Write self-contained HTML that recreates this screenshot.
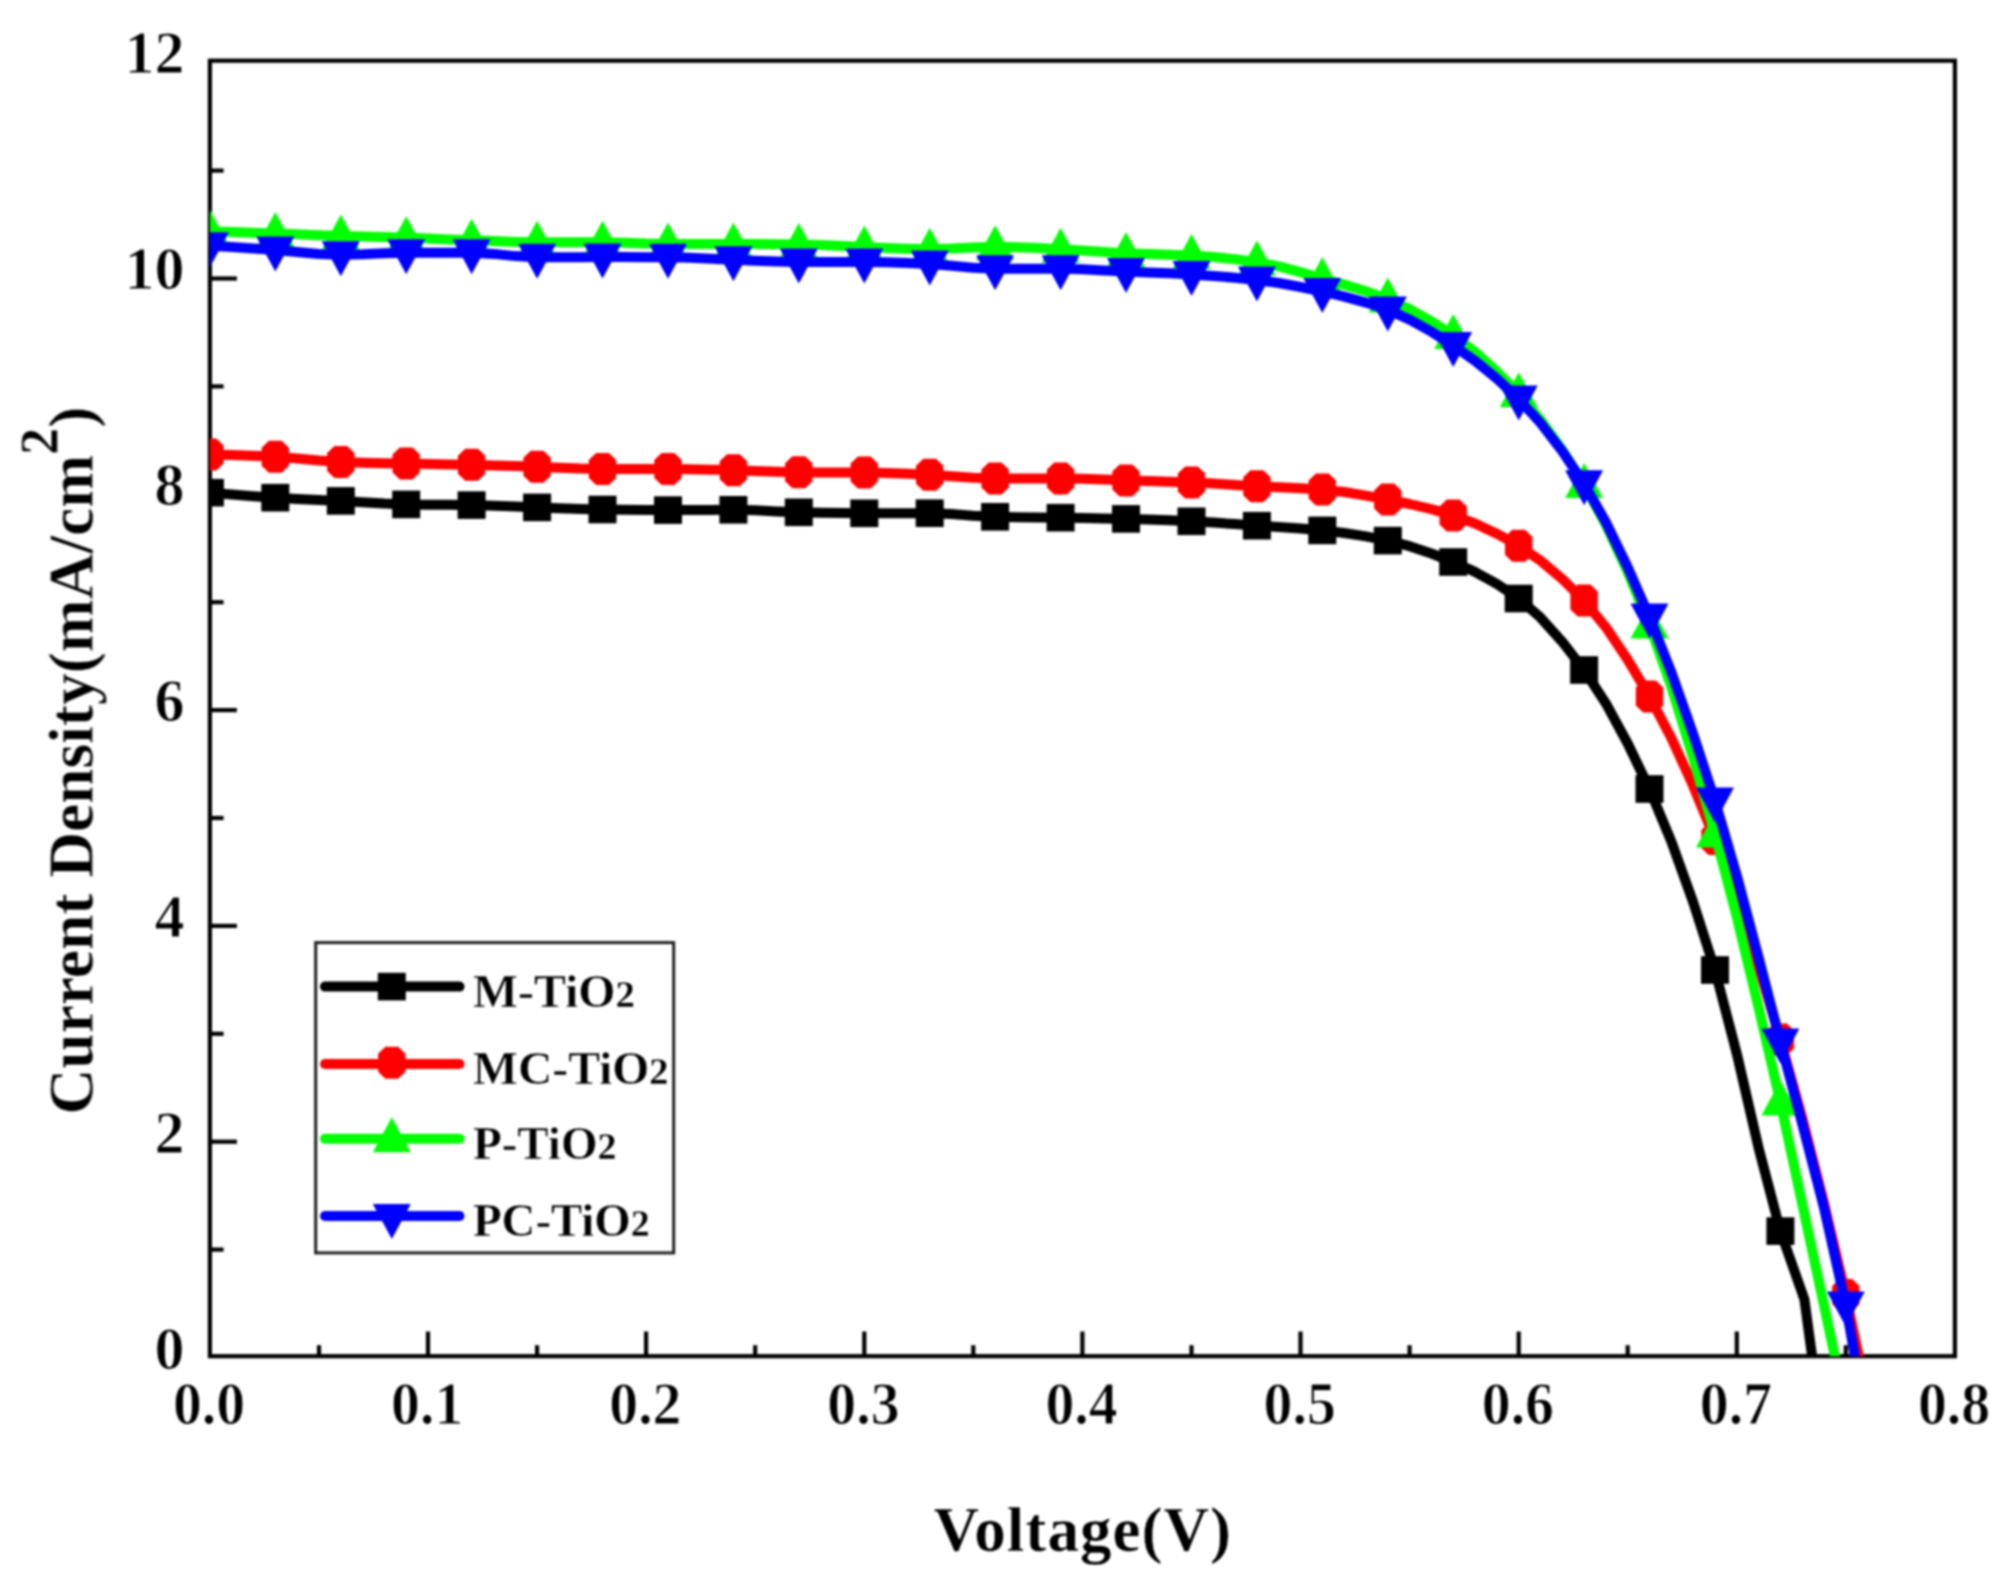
<!DOCTYPE html>
<html lang="en">
<head>
<meta charset="utf-8">
<title>J-V curves</title>
<style>
html,body{margin:0;padding:0;background:#ffffff;}
body{width:2009px;height:1592px;overflow:hidden;}
svg{display:block;}
text{font-family:"Liberation Serif","DejaVu Serif",serif;font-weight:bold;fill:#000;stroke:#fff;stroke-width:1px;}
.tk{font-size:61.5px;stroke-width:0.4px;}
.ttl{font-size:63px;stroke-width:0.4px;}
.lg{font-size:47px;stroke-width:0.5px;}
.lg2{font-size:38px;stroke-width:0.3px;}
</style>
</head>
<body>
<svg width="2009" height="1592" viewBox="0 0 2009 1592">
<rect x="0" y="0" width="2009" height="1592" fill="#ffffff"/>
<defs><filter id="soft" x="0" y="0" width="2009" height="1592" filterUnits="userSpaceOnUse" color-interpolation-filters="sRGB"><feGaussianBlur stdDeviation="0.8"/></filter><clipPath id="plot"><rect x="209.9" y="60.7" width="1745.0" height="1295.5"/></clipPath></defs>

<g filter="url(#soft)">
<g fill="none" stroke="#000" stroke-width="4.2">
<rect x="209.9" y="60.7" width="1745.0" height="1295.5"/>
<line x1="319.0" y1="1356.2" x2="319.0" y2="1345.2"/>
<line x1="428.0" y1="1356.2" x2="428.0" y2="1331.5"/>
<line x1="537.1" y1="1356.2" x2="537.1" y2="1345.2"/>
<line x1="646.1" y1="1356.2" x2="646.1" y2="1331.5"/>
<line x1="755.2" y1="1356.2" x2="755.2" y2="1345.2"/>
<line x1="864.3" y1="1356.2" x2="864.3" y2="1331.5"/>
<line x1="973.3" y1="1356.2" x2="973.3" y2="1345.2"/>
<line x1="1082.4" y1="1356.2" x2="1082.4" y2="1331.5"/>
<line x1="1191.5" y1="1356.2" x2="1191.5" y2="1345.2"/>
<line x1="1300.5" y1="1356.2" x2="1300.5" y2="1331.5"/>
<line x1="1409.6" y1="1356.2" x2="1409.6" y2="1345.2"/>
<line x1="1518.7" y1="1356.2" x2="1518.7" y2="1331.5"/>
<line x1="1627.7" y1="1356.2" x2="1627.7" y2="1345.2"/>
<line x1="1736.8" y1="1356.2" x2="1736.8" y2="1331.5"/>
<line x1="1845.8" y1="1356.2" x2="1845.8" y2="1345.2"/>
<line x1="209.9" y1="1249.6" x2="223.6" y2="1249.6"/>
<line x1="209.9" y1="1141.7" x2="236.9" y2="1141.7"/>
<line x1="209.9" y1="1033.8" x2="223.6" y2="1033.8"/>
<line x1="209.9" y1="925.9" x2="236.9" y2="925.9"/>
<line x1="209.9" y1="818.0" x2="223.6" y2="818.0"/>
<line x1="209.9" y1="710.1" x2="236.9" y2="710.1"/>
<line x1="209.9" y1="602.2" x2="223.6" y2="602.2"/>
<line x1="209.9" y1="494.3" x2="236.9" y2="494.3"/>
<line x1="209.9" y1="386.4" x2="223.6" y2="386.4"/>
<line x1="209.9" y1="278.5" x2="236.9" y2="278.5"/>
<line x1="209.9" y1="170.6" x2="223.6" y2="170.6"/>
</g>
<g class="tk" text-anchor="middle">
<text transform="translate(209.1,1423.5) scale(0.94,1)">0.0</text>
<text transform="translate(427.2,1423.5) scale(0.94,1)">0.1</text>
<text transform="translate(645.4,1423.5) scale(0.94,1)">0.2</text>
<text transform="translate(863.5,1423.5) scale(0.94,1)">0.3</text>
<text transform="translate(1081.6,1423.5) scale(0.94,1)">0.4</text>
<text transform="translate(1299.7,1423.5) scale(0.94,1)">0.5</text>
<text transform="translate(1517.9,1423.5) scale(0.94,1)">0.6</text>
<text transform="translate(1736.0,1423.5) scale(0.94,1)">0.7</text>
<text transform="translate(1954.1,1423.5) scale(0.94,1)">0.8</text>
</g>
<g class="tk" text-anchor="end">
<text transform="translate(184.5,1368.8) scale(0.975,1)">0</text>
<text transform="translate(184.5,1152.9) scale(0.975,1)">2</text>
<text transform="translate(184.5,937.0) scale(0.975,1)">4</text>
<text transform="translate(184.5,721.1) scale(0.975,1)">6</text>
<text transform="translate(184.5,505.1) scale(0.975,1)">8</text>
<text transform="translate(184.5,289.2) scale(0.975,1)">10</text>
<text transform="translate(184.5,73.3) scale(0.975,1)">12</text>
</g>
<text class="ttl" x="1082.8" y="1551" letter-spacing="1.05" text-anchor="middle">Voltage(V)</text>
<text class="ttl" transform="translate(92.5,760.5) rotate(-90) scale(1.007,1)" text-anchor="middle">Current Density(mA/cm<tspan font-size="54" dy="-35">2</tspan><tspan dy="35">)</tspan></text>
<g clip-path="url(#plot)">
<polyline points="209.9,492.7 231.7,494.6 253.5,496.3 275.3,497.7 297.1,498.9 319.0,499.9 340.8,500.9 362.6,502.2 384.4,503.6 406.2,504.4 428.0,504.7 449.8,504.8 471.6,505.1 493.5,505.7 515.3,506.6 537.1,507.4 558.9,508.2 580.7,509.0 602.5,509.5 624.3,509.8 646.1,510.0 668.0,510.1 689.8,510.0 711.6,509.9 733.4,509.8 755.2,510.3 777.0,511.4 798.8,512.3 820.6,512.8 842.5,513.1 864.3,513.3 886.1,513.3 907.9,513.2 929.7,513.2 951.5,514.0 973.3,515.7 995.1,516.8 1017.0,517.2 1038.8,517.4 1060.6,517.7 1082.4,518.0 1104.2,518.4 1126.0,518.9 1147.8,519.5 1169.6,520.3 1191.5,521.3 1213.3,522.6 1235.1,524.1 1256.9,525.7 1278.7,527.1 1300.5,528.6 1322.3,530.4 1344.2,533.0 1366.0,536.4 1387.8,540.6 1409.6,546.2 1431.4,553.5 1453.2,562.0 1475.0,571.9 1496.8,583.9 1518.7,598.5 1540.5,617.6 1562.3,641.8 1584.1,670.0 1605.9,703.4 1627.7,743.5 1649.5,789.0 1671.3,841.4 1693.1,902.0 1715.0,970.0 1736.8,1053.7 1758.6,1147.9 1780.4,1231.1 1804.4,1299.3 1812.6,1360.0" fill="none" stroke="#000000" stroke-width="10" stroke-linejoin="round"/>
<rect x="195.9" y="478.9" width="28" height="27.6" fill="#000000"/>
<rect x="261.3" y="483.9" width="28" height="27.6" fill="#000000"/>
<rect x="326.8" y="487.1" width="28" height="27.6" fill="#000000"/>
<rect x="392.2" y="490.6" width="28" height="27.6" fill="#000000"/>
<rect x="457.6" y="491.3" width="28" height="27.6" fill="#000000"/>
<rect x="523.1" y="493.6" width="28" height="27.6" fill="#000000"/>
<rect x="588.5" y="495.7" width="28" height="27.6" fill="#000000"/>
<rect x="654.0" y="496.3" width="28" height="27.6" fill="#000000"/>
<rect x="719.4" y="496.0" width="28" height="27.6" fill="#000000"/>
<rect x="784.8" y="498.5" width="28" height="27.6" fill="#000000"/>
<rect x="850.3" y="499.5" width="28" height="27.6" fill="#000000"/>
<rect x="915.7" y="499.4" width="28" height="27.6" fill="#000000"/>
<rect x="981.1" y="503.0" width="28" height="27.6" fill="#000000"/>
<rect x="1046.6" y="503.9" width="28" height="27.6" fill="#000000"/>
<rect x="1112.0" y="505.1" width="28" height="27.6" fill="#000000"/>
<rect x="1177.5" y="507.5" width="28" height="27.6" fill="#000000"/>
<rect x="1242.9" y="511.9" width="28" height="27.6" fill="#000000"/>
<rect x="1308.3" y="516.6" width="28" height="27.6" fill="#000000"/>
<rect x="1373.8" y="526.8" width="28" height="27.6" fill="#000000"/>
<rect x="1439.2" y="548.2" width="28" height="27.6" fill="#000000"/>
<rect x="1504.7" y="584.7" width="28" height="27.6" fill="#000000"/>
<rect x="1570.1" y="656.2" width="28" height="27.6" fill="#000000"/>
<rect x="1635.5" y="775.2" width="28" height="27.6" fill="#000000"/>
<rect x="1701.0" y="956.2" width="28" height="27.6" fill="#000000"/>
<rect x="1766.4" y="1217.3" width="28" height="27.6" fill="#000000"/>
<polyline points="209.9,454.6 231.7,455.0 253.5,455.8 275.3,456.8 297.1,458.4 319.0,460.5 340.8,462.0 362.6,462.7 384.4,463.2 406.2,463.6 428.0,464.0 449.8,464.4 471.6,464.8 493.5,465.4 515.3,466.1 537.1,466.8 558.9,467.7 580.7,468.6 602.5,469.0 624.3,469.0 646.1,469.0 668.0,469.0 689.8,469.2 711.6,469.7 733.4,470.2 755.2,470.9 777.0,471.8 798.8,472.3 820.6,472.4 842.5,472.4 864.3,472.5 886.1,472.9 907.9,473.8 929.7,474.8 951.5,476.2 973.3,477.8 995.1,478.5 1017.0,478.5 1038.8,478.5 1060.6,478.5 1082.4,478.8 1104.2,479.6 1126.0,480.4 1147.8,481.0 1169.6,481.7 1191.5,482.5 1213.3,483.6 1235.1,484.9 1256.9,486.2 1278.7,487.2 1300.5,488.2 1322.3,489.6 1344.2,492.0 1366.0,495.6 1387.8,499.6 1409.6,504.0 1431.4,509.1 1453.2,515.4 1475.0,523.5 1496.8,533.7 1518.7,545.8 1540.5,560.6 1562.3,579.0 1584.1,600.6 1605.9,627.3 1627.7,659.7 1649.5,696.4 1671.3,738.0 1693.1,785.8 1715.0,839.0 1736.8,899.0 1758.6,966.6 1780.4,1039.5 1802.2,1117.9 1824.0,1203.1 1845.8,1295.0 1859.6,1360.0" fill="none" stroke="#ff0000" stroke-width="10" stroke-linejoin="round"/>
<polygon points="203.5,438.6 216.3,438.6 223.6,445.6 223.6,463.6 216.3,470.6 203.5,470.6 196.2,463.6 196.2,445.6" fill="#ff0000"/>
<polygon points="268.9,440.8 281.7,440.8 289.0,447.8 289.0,465.8 281.7,472.8 268.9,472.8 261.6,465.8 261.6,447.8" fill="#ff0000"/>
<polygon points="334.4,446.0 347.2,446.0 354.5,453.0 354.5,471.0 347.2,478.0 334.4,478.0 327.1,471.0 327.1,453.0" fill="#ff0000"/>
<polygon points="399.8,447.6 412.6,447.6 419.9,454.6 419.9,472.6 412.6,479.6 399.8,479.6 392.5,472.6 392.5,454.6" fill="#ff0000"/>
<polygon points="465.2,448.8 478.0,448.8 485.3,455.8 485.3,473.8 478.0,480.8 465.2,480.8 457.9,473.8 457.9,455.8" fill="#ff0000"/>
<polygon points="530.7,450.8 543.5,450.8 550.8,457.8 550.8,475.8 543.5,482.8 530.7,482.8 523.4,475.8 523.4,457.8" fill="#ff0000"/>
<polygon points="596.1,453.0 608.9,453.0 616.2,460.0 616.2,478.0 608.9,485.0 596.1,485.0 588.8,478.0 588.8,460.0" fill="#ff0000"/>
<polygon points="661.6,453.0 674.4,453.0 681.7,460.0 681.7,478.0 674.4,485.0 661.6,485.0 654.3,478.0 654.3,460.0" fill="#ff0000"/>
<polygon points="727.0,454.2 739.8,454.2 747.1,461.2 747.1,479.2 739.8,486.2 727.0,486.2 719.7,479.2 719.7,461.2" fill="#ff0000"/>
<polygon points="792.4,456.3 805.2,456.3 812.5,463.3 812.5,481.3 805.2,488.3 792.4,488.3 785.1,481.3 785.1,463.3" fill="#ff0000"/>
<polygon points="857.9,456.5 870.7,456.5 878.0,463.5 878.0,481.5 870.7,488.5 857.9,488.5 850.6,481.5 850.6,463.5" fill="#ff0000"/>
<polygon points="923.3,458.8 936.1,458.8 943.4,465.8 943.4,483.8 936.1,490.8 923.3,490.8 916.0,483.8 916.0,465.8" fill="#ff0000"/>
<polygon points="988.8,462.5 1001.5,462.5 1008.9,469.5 1008.9,487.5 1001.5,494.5 988.8,494.5 981.4,487.5 981.4,469.5" fill="#ff0000"/>
<polygon points="1054.2,462.5 1067.0,462.5 1074.3,469.5 1074.3,487.5 1067.0,494.5 1054.2,494.5 1046.9,487.5 1046.9,469.5" fill="#ff0000"/>
<polygon points="1119.6,464.4 1132.4,464.4 1139.7,471.4 1139.7,489.4 1132.4,496.4 1119.6,496.4 1112.3,489.4 1112.3,471.4" fill="#ff0000"/>
<polygon points="1185.1,466.5 1197.9,466.5 1205.2,473.5 1205.2,491.5 1197.9,498.5 1185.1,498.5 1177.8,491.5 1177.8,473.5" fill="#ff0000"/>
<polygon points="1250.5,470.2 1263.3,470.2 1270.6,477.2 1270.6,495.2 1263.3,502.2 1250.5,502.2 1243.2,495.2 1243.2,477.2" fill="#ff0000"/>
<polygon points="1315.9,473.6 1328.7,473.6 1336.0,480.6 1336.0,498.6 1328.7,505.6 1315.9,505.6 1308.6,498.6 1308.6,480.6" fill="#ff0000"/>
<polygon points="1381.4,483.6 1394.2,483.6 1401.5,490.6 1401.5,508.6 1394.2,515.6 1381.4,515.6 1374.1,508.6 1374.1,490.6" fill="#ff0000"/>
<polygon points="1446.8,499.4 1459.6,499.4 1466.9,506.4 1466.9,524.4 1459.6,531.4 1446.8,531.4 1439.5,524.4 1439.5,506.4" fill="#ff0000"/>
<polygon points="1512.2,529.8 1525.1,529.8 1532.4,536.8 1532.4,554.8 1525.1,561.8 1512.2,561.8 1505.0,554.8 1505.0,536.8" fill="#ff0000"/>
<polygon points="1577.7,584.6 1590.5,584.6 1597.8,591.6 1597.8,609.6 1590.5,616.6 1577.7,616.6 1570.4,609.6 1570.4,591.6" fill="#ff0000"/>
<polygon points="1643.1,680.4 1655.9,680.4 1663.2,687.4 1663.2,705.4 1655.9,712.4 1643.1,712.4 1635.8,705.4 1635.8,687.4" fill="#ff0000"/>
<polygon points="1708.6,823.0 1721.4,823.0 1728.7,830.0 1728.7,848.0 1721.4,855.0 1708.6,855.0 1701.3,848.0 1701.3,830.0" fill="#ff0000"/>
<polygon points="1774.0,1023.5 1786.8,1023.5 1794.1,1030.5 1794.1,1048.5 1786.8,1055.5 1774.0,1055.5 1766.7,1048.5 1766.7,1030.5" fill="#ff0000"/>
<polygon points="1839.4,1279.0 1852.2,1279.0 1859.5,1286.0 1859.5,1304.0 1852.2,1311.0 1839.4,1311.0 1832.1,1304.0 1832.1,1286.0" fill="#ff0000"/>
<polyline points="209.9,231.4 231.7,232.1 253.5,232.8 275.3,233.5 297.1,234.3 319.0,235.2 340.8,236.0 362.6,236.6 384.4,237.1 406.2,237.7 428.0,238.5 449.8,239.4 471.6,240.2 493.5,241.1 515.3,241.9 537.1,242.3 558.9,242.3 580.7,242.3 602.5,242.3 624.3,242.7 646.1,243.6 668.0,244.0 689.8,244.0 711.6,244.0 733.4,244.0 755.2,244.1 777.0,244.2 798.8,244.4 820.6,245.0 842.5,246.1 864.3,247.1 886.1,248.0 907.9,248.8 929.7,249.2 951.5,248.6 973.3,247.4 995.1,246.8 1017.0,247.2 1038.8,248.1 1060.6,249.2 1082.4,250.5 1104.2,252.1 1126.0,253.4 1147.8,254.1 1169.6,254.7 1191.5,255.5 1213.3,257.0 1235.1,259.2 1256.9,262.1 1278.7,266.4 1300.5,272.2 1322.3,278.5 1344.2,284.6 1366.0,291.2 1387.8,299.1 1409.6,309.1 1431.4,321.3 1453.2,335.4 1475.0,351.9 1496.8,371.4 1518.7,393.8 1540.5,419.7 1562.3,449.9 1584.1,484.5 1605.9,524.8 1627.7,571.8 1649.5,625.0 1671.3,686.7 1693.1,757.5 1715.0,834.0 1736.8,917.1 1758.6,1007.6 1780.4,1102.0 1835.7,1360.0" fill="none" stroke="#00ff00" stroke-width="10" stroke-linejoin="round"/>
<polygon points="209.9,209.9 228.9,244.9 190.9,244.9" fill="#00ff00"/>
<polygon points="275.3,212.0 294.3,247.0 256.3,247.0" fill="#00ff00"/>
<polygon points="340.8,214.5 359.8,249.5 321.8,249.5" fill="#00ff00"/>
<polygon points="406.2,216.2 425.2,251.2 387.2,251.2" fill="#00ff00"/>
<polygon points="471.6,218.7 490.6,253.7 452.6,253.7" fill="#00ff00"/>
<polygon points="537.1,220.8 556.1,255.8 518.1,255.8" fill="#00ff00"/>
<polygon points="602.5,220.8 621.5,255.8 583.5,255.8" fill="#00ff00"/>
<polygon points="668.0,222.5 687.0,257.5 649.0,257.5" fill="#00ff00"/>
<polygon points="733.4,222.5 752.4,257.5 714.4,257.5" fill="#00ff00"/>
<polygon points="798.8,222.9 817.8,257.9 779.8,257.9" fill="#00ff00"/>
<polygon points="864.3,225.6 883.3,260.6 845.3,260.6" fill="#00ff00"/>
<polygon points="929.7,227.7 948.7,262.7 910.7,262.7" fill="#00ff00"/>
<polygon points="995.1,225.3 1014.1,260.3 976.1,260.3" fill="#00ff00"/>
<polygon points="1060.6,227.7 1079.6,262.7 1041.6,262.7" fill="#00ff00"/>
<polygon points="1126.0,231.9 1145.0,266.9 1107.0,266.9" fill="#00ff00"/>
<polygon points="1191.5,234.0 1210.5,269.0 1172.5,269.0" fill="#00ff00"/>
<polygon points="1256.9,240.6 1275.9,275.6 1237.9,275.6" fill="#00ff00"/>
<polygon points="1322.3,257.0 1341.3,292.0 1303.3,292.0" fill="#00ff00"/>
<polygon points="1387.8,277.6 1406.8,312.6 1368.8,312.6" fill="#00ff00"/>
<polygon points="1453.2,313.9 1472.2,348.9 1434.2,348.9" fill="#00ff00"/>
<polygon points="1518.7,372.3 1537.7,407.3 1499.7,407.3" fill="#00ff00"/>
<polygon points="1584.1,463.0 1603.1,498.0 1565.1,498.0" fill="#00ff00"/>
<polygon points="1649.5,603.5 1668.5,638.5 1630.5,638.5" fill="#00ff00"/>
<polygon points="1715.0,812.5 1734.0,847.5 1696.0,847.5" fill="#00ff00"/>
<polygon points="1780.4,1080.5 1799.4,1115.5 1761.4,1115.5" fill="#00ff00"/>
<polyline points="209.9,245.8 231.7,247.1 253.5,248.5 275.3,250.0 297.1,251.9 319.0,253.9 340.8,254.8 362.6,254.3 384.4,253.2 406.2,252.7 428.0,252.7 449.8,252.7 471.6,252.7 493.5,253.9 515.3,256.1 537.1,257.3 558.9,257.2 580.7,257.2 602.5,257.1 624.3,257.1 646.1,257.2 668.0,257.3 689.8,257.8 711.6,258.8 733.4,259.8 755.2,260.7 777.0,261.5 798.8,261.9 820.6,261.9 842.5,261.9 864.3,261.9 886.1,262.2 907.9,263.0 929.7,264.0 951.5,265.7 973.3,267.8 995.1,268.8 1017.0,268.8 1038.8,268.8 1060.6,268.8 1082.4,269.3 1104.2,270.4 1126.0,271.5 1147.8,272.4 1169.6,273.3 1191.5,274.4 1213.3,275.9 1235.1,277.7 1256.9,280.0 1278.7,283.0 1300.5,287.0 1322.3,291.5 1344.2,296.6 1366.0,302.6 1387.8,309.9 1409.6,319.6 1431.4,331.7 1453.2,345.5 1475.0,360.8 1496.8,378.6 1518.7,399.0 1540.5,423.0 1562.3,451.3 1584.1,483.8 1605.9,522.2 1627.7,567.3 1649.5,617.0 1671.3,672.1 1693.1,733.8 1715.0,800.9 1736.8,875.6 1758.6,957.6 1780.4,1041.9 1802.2,1123.6 1824.0,1207.8 1845.8,1305.1 1855.5,1360.0" fill="none" stroke="#0000ff" stroke-width="10" stroke-linejoin="round"/>
<polygon points="209.9,267.3 228.9,232.3 190.9,232.3" fill="#0000ff"/>
<polygon points="275.3,271.5 294.3,236.5 256.3,236.5" fill="#0000ff"/>
<polygon points="340.8,276.3 359.8,241.3 321.8,241.3" fill="#0000ff"/>
<polygon points="406.2,274.2 425.2,239.2 387.2,239.2" fill="#0000ff"/>
<polygon points="471.6,274.2 490.6,239.2 452.6,239.2" fill="#0000ff"/>
<polygon points="537.1,278.8 556.1,243.8 518.1,243.8" fill="#0000ff"/>
<polygon points="602.5,278.6 621.5,243.6 583.5,243.6" fill="#0000ff"/>
<polygon points="668.0,278.8 687.0,243.8 649.0,243.8" fill="#0000ff"/>
<polygon points="733.4,281.3 752.4,246.3 714.4,246.3" fill="#0000ff"/>
<polygon points="798.8,283.4 817.8,248.4 779.8,248.4" fill="#0000ff"/>
<polygon points="864.3,283.4 883.3,248.4 845.3,248.4" fill="#0000ff"/>
<polygon points="929.7,285.5 948.7,250.5 910.7,250.5" fill="#0000ff"/>
<polygon points="995.1,290.3 1014.1,255.3 976.1,255.3" fill="#0000ff"/>
<polygon points="1060.6,290.3 1079.6,255.3 1041.6,255.3" fill="#0000ff"/>
<polygon points="1126.0,293.0 1145.0,258.0 1107.0,258.0" fill="#0000ff"/>
<polygon points="1191.5,295.9 1210.5,260.9 1172.5,260.9" fill="#0000ff"/>
<polygon points="1256.9,301.5 1275.9,266.5 1237.9,266.5" fill="#0000ff"/>
<polygon points="1322.3,313.0 1341.3,278.0 1303.3,278.0" fill="#0000ff"/>
<polygon points="1387.8,331.4 1406.8,296.4 1368.8,296.4" fill="#0000ff"/>
<polygon points="1453.2,367.0 1472.2,332.0 1434.2,332.0" fill="#0000ff"/>
<polygon points="1518.7,420.5 1537.7,385.5 1499.7,385.5" fill="#0000ff"/>
<polygon points="1584.1,505.3 1603.1,470.3 1565.1,470.3" fill="#0000ff"/>
<polygon points="1649.5,638.5 1668.5,603.5 1630.5,603.5" fill="#0000ff"/>
<polygon points="1715.0,822.4 1734.0,787.4 1696.0,787.4" fill="#0000ff"/>
<polygon points="1780.4,1063.4 1799.4,1028.4 1761.4,1028.4" fill="#0000ff"/>
<polygon points="1845.8,1326.6 1864.8,1291.6 1826.8,1291.6" fill="#0000ff"/>
</g>
<rect x="315.7" y="942.6" width="358" height="310.3" fill="#ffffff" stroke="#1e1e1e" stroke-width="3"/>
<line x1="325" y1="986.6" x2="459.5" y2="986.6" stroke="#000000" stroke-width="10" stroke-linecap="round"/>
<rect x="377.8" y="972.8" width="28" height="27.6" fill="#000000"/>
<text class="lg" transform="translate(473,1006.9) scale(1.017,1)">M-TiO<tspan class="lg2">2</tspan></text>
<line x1="325" y1="1064.0" x2="459.5" y2="1064.0" stroke="#ff0000" stroke-width="10" stroke-linecap="round"/>
<polygon points="385.4,1046.8 398.2,1046.8 405.5,1053.8 405.5,1071.8 398.2,1078.8 385.4,1078.8 378.1,1071.8 378.1,1053.8" fill="#ff0000"/>
<text class="lg" transform="translate(473,1084.2) scale(1.013,1)">MC-TiO<tspan class="lg2">2</tspan></text>
<line x1="325" y1="1138.8" x2="459.5" y2="1138.8" stroke="#00ff00" stroke-width="10" stroke-linecap="round"/>
<polygon points="391.8,1117.3 410.8,1152.3 372.8,1152.3" fill="#00ff00"/>
<text class="lg" transform="translate(473,1158.9) scale(1.000,1)">P-TiO<tspan class="lg2">2</tspan></text>
<line x1="325" y1="1216.0" x2="459.5" y2="1216.0" stroke="#0000ff" stroke-width="10" stroke-linecap="round"/>
<polygon points="391.8,1239.0 410.8,1204.0 372.8,1204.0" fill="#0000ff"/>
<text class="lg" transform="translate(473,1236.0) scale(0.996,1)">PC-TiO<tspan class="lg2">2</tspan></text>
</g>
</svg>
</body>
</html>
